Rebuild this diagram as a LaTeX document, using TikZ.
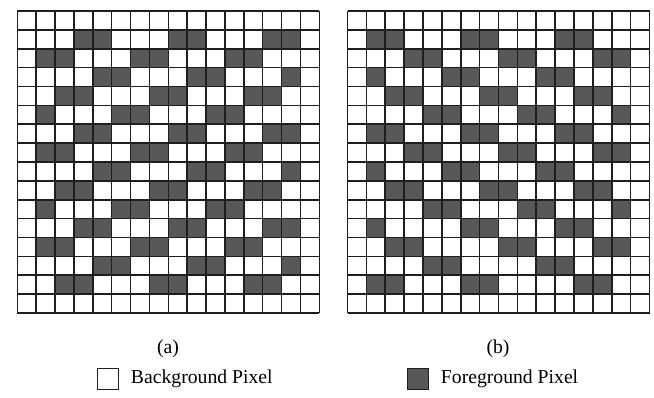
\documentclass[tikz,border=0pt]{standalone}
\usepackage{fontspec}
\setmainfont{Liberation Serif}
\usetikzlibrary{positioning}
\definecolor{fgpix}{RGB}{88,88,88}
\definecolor{pixgrid}{RGB}{30,30,30}
\tikzset{
  pixline/.style={line width=1.1pt, pixgrid},
  fgcell/.style={fill=fgpix},
  keybox/.style={draw=pixgrid, line width=0.8pt, minimum size=0.52cm, inner sep=0pt},
}
\newcommand{\cellsz}{18.875}

\begin{document}
\begin{tikzpicture}[x=0.025cm, y=-0.025cm, font=\fontsize{14}{16}\selectfont]
    \useasboundingbox (0,0) rectangle (654,398);
    % (a)
    \begin{scope}[shift={(17.3,11)}]
        \foreach \r/\cols in {1/{3,4,8,9,13,14}, 2/{1,2,6,7,11,12}, 3/{4,5,9,10,14},
                              4/{2,3,7,8,12,13}, 5/{1,5,6,10,11}, 6/{3,4,8,9,13,14},
                              7/{1,2,6,7,11,12}, 8/{4,5,9,10,14}, 9/{2,3,7,8,12,13},
                              10/{1,5,6,10,11}, 11/{3,4,8,9,13,14}, 12/{1,2,6,7,11,12},
                              13/{4,5,9,10,14}, 14/{2,3,7,8,12,13}}
            \foreach \c in \cols
                \fill[fgcell] ({\c*\cellsz},{\r*\cellsz}) rectangle ++(\cellsz,\cellsz);
        \foreach \i in {0,...,16} {
            \draw[pixline] ({\i*\cellsz},0) -- ({\i*\cellsz},{16*\cellsz});
            \draw[pixline] (0,{\i*\cellsz}) -- ({16*\cellsz},{\i*\cellsz});
        }
    \end{scope}
    % (b)
    \begin{scope}[shift={(347.5,11)}]
        \foreach \r/\cols in {1/{1,2,6,7,11,12}, 2/{3,4,8,9,13,14}, 3/{1,5,6,10,11},
                              4/{2,3,7,8,12,13}, 5/{4,5,9,10,14}, 6/{1,2,6,7,11,12},
                              7/{3,4,8,9,13,14}, 8/{1,5,6,10,11}, 9/{2,3,7,8,12,13},
                              10/{4,5,9,10,14}, 11/{1,6,7,11,12}, 12/{2,3,8,9,13,14},
                              13/{4,5,10,11}, 14/{1,2,6,7,12,13}}
            \foreach \c in \cols
                \fill[fgcell] ({\c*\cellsz},{\r*\cellsz}) rectangle ++(\cellsz,\cellsz);
        \foreach \i in {0,...,16} {
            \draw[pixline] ({\i*\cellsz},0) -- ({\i*\cellsz},{16*\cellsz});
            \draw[pixline] (0,{\i*\cellsz}) -- ({16*\cellsz},{\i*\cellsz});
        }
    \end{scope}
    \node (capa) at (168,349) {(a)};
    \node (capb) at (498,349) {(b)};
    % legend
    \node[keybox, fill=white] (bgkey) at (108,379) {};
    \node[right=5pt of bgkey] (bgtext) {Background Pixel};
    \node[keybox, fill=fgpix] (fgkey) at (418,379) {};
    \node[right=5pt of fgkey] (fgtext) {Foreground Pixel};
\end{tikzpicture}
\end{document}
